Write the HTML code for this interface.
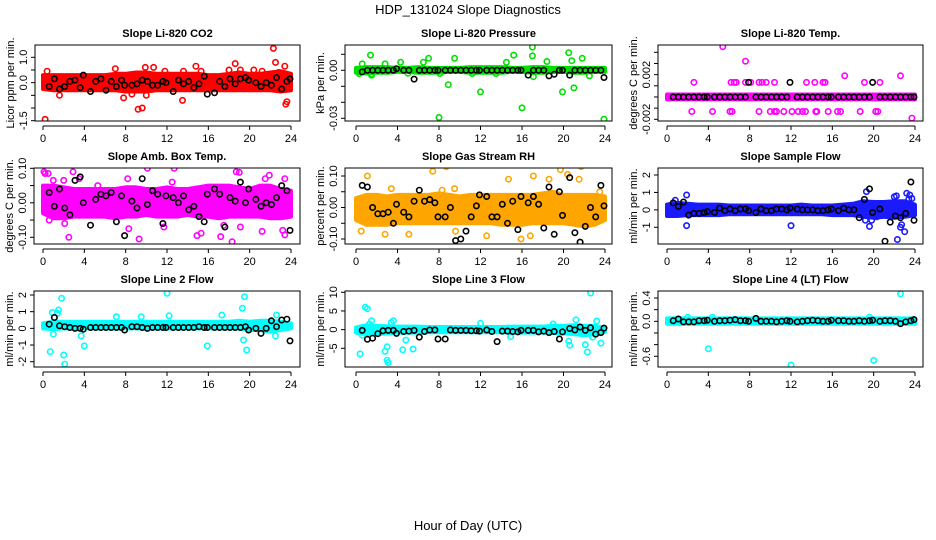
<!DOCTYPE html>
<html><head><meta charset="utf-8"><style>
html,body{margin:0;padding:0;background:#fff;}
svg{display:block;font-family:"Liberation Sans",Arial,sans-serif;}
</style></head><body>
<svg id="chart" width="936" height="540" viewBox="0 0 936 540" xmlns="http://www.w3.org/2000/svg">
<rect x="0" y="0" width="936" height="540" fill="#fff"/>
<text x="468" y="14" font-size="13" text-anchor="middle">HDP_131024  Slope Diagnostics</text>
<text x="468" y="530" font-size="13" text-anchor="middle">Hour of Day (UTC)</text>
</svg>
<script>
// shared data
const bandHours=[0,1,2,3,4,5,6,7,8,9,10,11,12,13,14,15,16,17,18,19,20,21,22,23,24];
const blackHours=[0.6,1.1,1.6,2.1,2.6,3.1,3.6,3.9,4.6,5.1,5.6,6.1,6.6,7.1,7.6,7.9,8.6,9.1,9.6,10.1,10.6,11.1,11.6,11.9,12.6,13.1,13.6,14.1,14.6,15.1,15.6,15.9,16.6,17.1,17.6,18.1,18.6,19.1,19.6,19.9,20.6,21.1,21.6,22.1,22.6,23.1,23.6,23.9];
const xTicks=[0,4,8,12,16,20,24];

// Panel 1: CO2
const p1Lo=[-0.25,-0.3,-0.3,-0.3,-0.3,-0.3,-0.3,-0.3,-0.35,-0.35,-0.35,-0.3,-0.3,-0.3,-0.3,-0.3,-0.3,-0.3,-0.3,-0.3,-0.3,-0.3,-0.3,-0.35,-0.3];
const p1Hi=[0.3,0.3,0.3,0.3,0.3,0.3,0.3,0.35,0.35,0.4,0.4,0.35,0.35,0.35,0.35,0.35,0.3,0.3,0.35,0.4,0.35,0.35,0.4,0.45,0.35];
const p1OutH=[0.2,0.4,1.6,7,7.8,9.2,9.6,9.9,10.7,11.8,13.5,13.6,14.8,15.3,18,18.6,19.1,20.4,21.2,22.3,22.5,23.4,23.5,23.6,22.8,8.6,10];
const p1OutV=[-1.45,0.45,-0.5,0.55,-0.6,-1.05,-1.0,0.6,0.6,0.45,-0.7,0.45,0.65,0.45,0.5,0.75,0.5,0.5,0.45,1.35,0.8,0.65,-0.85,-0.75,0.4,-0.45,-0.5];
const p1Black=[-0.15,0.15,-0.25,-0.15,0.05,0.1,-0.2,0.3,-0.35,0.05,0.15,-0.3,0.05,-0.15,0.1,-0.1,-0.1,-0.05,0.1,0.05,-0.1,-0.1,0.05,0.0,-0.35,0.1,-0.05,0.05,-0.2,-0.05,0.25,-0.45,-0.4,0.05,-0.15,0.15,-0.05,0.15,0.2,0.1,0.0,-0.15,0.0,-0.1,0.2,-0.25,0.05,0.15];
const p1YTicks=[-1.5,-1.0,-0.5,0.0,0.5,1.0];
const p1YLabels=["-1.5","","","0.0","","1.0"];

// Panel 2: Pressure
const p2Lo=[-0.0015,-0.002,-0.0015,-0.0015,-0.001,-0.001,-0.0015,-0.0015,-0.0015,-0.001,-0.001,-0.0015,-0.0015,-0.0015,-0.0015,-0.001,-0.001,-0.0015,-0.0015,-0.001,-0.001,-0.0015,-0.0015,-0.001,-0.001];
const p2Hi=[0.0015,0.002,0.002,0.002,0.0015,0.0015,0.002,0.0015,0.0015,0.0015,0.0015,0.002,0.002,0.002,0.002,0.0015,0.0015,0.002,0.002,0.0015,0.0015,0.0015,0.0015,0.0015,0.0015];
const p2OutH=[1.5,1.5,1.4,0.3,5,8,8.1,8.9,9.5,11.2,12,13.5,14.5,15.2,16,17,17,17.1,18.4,19.9,20.5,20.8,21,21.8,22.5,23.9,7,0.6,2.8,4.3,6.5];
const p2OutV=[-0.0025,-0.003,0.0095,-0.002,-0.0018,-0.0295,-0.002,-0.009,0.0075,-0.002,-0.0135,-0.002,0.005,0.0095,-0.0235,0.0145,0.009,-0.004,0.0055,-0.0135,0.011,0.006,-0.011,0.0075,-0.0035,-0.0305,0.0075,0.004,0.004,0.005,0.005];
const p2Black=[-0.001,0,0,0,0,0,0,0.001,0,0,-0.0055,0,0,0,0,0,0,0,0,0,0,0,0,0,0,0,0,0,0,0,0,0,-0.003,0,0,0,-0.0035,-0.0025,0,0,-0.003,0,0,0,0,0,0,-0.0045];
const p2YTicks=[-0.03,-0.02,-0.01,0.0,0.01];
const p2YLabels=["-0.03","","","0.00",""];

// Panel 3: Li-820 Temp
const p3Lo=[-0.00022,-0.00022,-0.00022,-0.00022,-0.00022,-0.00022,-0.00022,-0.00022,-0.00022,-0.00022,-0.00022,-0.00022,-0.00022,-0.00022,-0.00022,-0.00022,-0.00022,-0.00022,-0.00022,-0.00022,-0.00022,-0.00022,-0.00022,-0.00022,-0.00022];
const p3Hi=[0.00022,0.00022,0.00022,0.00022,0.00022,0.00022,0.00022,0.00022,0.00022,0.00022,0.00022,0.00022,0.00022,0.00022,0.00022,0.00022,0.00022,0.00022,0.00022,0.00022,0.00022,0.00022,0.00022,0.00022,0.00022];
const p3OutH=[2.6,6.2,6.5,6.7,7.6,8.1,8.9,9.2,9.6,10.4,13.5,14.3,15.1,15.3,19.1,20.6,2.4,4.4,6.1,6.3,8.9,10,10.4,10.6,11.3,12.1,12.7,13.1,13.4,14.4,14.5,15.6,16.5,16.8,18.7,20.2,20.4,5.4,7.6,17.2,22.6,23.7];
const p3OutV=[0.0013,0.0013,0.0013,0.0013,0.0013,0.0013,0.0013,0.0013,0.0013,0.0013,0.0013,0.0013,0.0013,0.0013,0.0013,0.0013,-0.0013,-0.0013,-0.0013,-0.0013,-0.0013,-0.0013,-0.0013,-0.0013,-0.0013,-0.0013,-0.0013,-0.0013,-0.0013,-0.0013,-0.0013,-0.0013,-0.0013,-0.0013,-0.0013,-0.0013,-0.0013,0.0045,0.0032,0.0019,0.0019,-0.0019];
const p3Black=[0,0,0,0,0,0,0,0,0,0,0,0,0,0,0,0.0013,0,0,0,0,0,0,0,0.0013,0,0,0,0,0,0,0,0,0,0,0,0,0,0,0,0.0013,0,0,0,0,0,0,0,0];
const p3YTicks=[-0.002,-0.001,0,0.001,0.002,0.003,0.004];
const p3YLabels=["-0.002","","","","0.002","",""];

// Panel 4: Amb Box Temp
const p4Lo=[-0.03,-0.045,-0.045,-0.04,-0.04,-0.04,-0.04,-0.045,-0.04,-0.04,-0.035,-0.04,-0.04,-0.04,-0.035,-0.04,-0.04,-0.045,-0.04,-0.04,-0.04,-0.04,-0.045,-0.045,-0.04];
const p4Hi=[0.05,0.05,0.045,0.04,0.04,0.04,0.04,0.04,0.045,0.045,0.04,0.04,0.045,0.04,0.04,0.045,0.05,0.05,0.05,0.045,0.04,0.05,0.05,0.04,0.035];
const p4OutH=[0.1,0.2,0.5,0.6,1.0,2.0,2.1,2.5,2.9,3.5,5.3,8.3,8.2,9.3,10.1,11.7,12.7,12.5,14.9,15.3,17.2,17.5,18.3,18.7,19.0,19.1,21.2,21.5,21.9,23.2,23.4,23.4];
const p4OutV=[0.09,0.085,0.085,-0.05,0.065,0.065,-0.06,-0.1,0.09,0.07,0.05,-0.075,0.07,-0.105,0.1,-0.07,0.1,0.06,-0.095,-0.088,-0.098,-0.065,-0.113,0.09,0.088,-0.07,-0.083,0.07,0.08,-0.08,-0.093,0.07];
const p4Black=[0.03,-0.01,0.04,-0.015,-0.035,0.065,0.075,0.0,-0.065,0.01,0.025,0.02,0.03,-0.055,0.02,-0.095,0.005,-0.015,0.07,-0.005,0.035,0.025,-0.06,0.02,0.015,0.0,0.02,-0.02,-0.01,-0.04,-0.055,0.025,0.04,0.025,-0.07,0.015,0.005,0.06,0.0,0.04,0.01,-0.01,0.0,-0.005,0.015,0.05,0.035,-0.08];
const p4YTicks=[-0.10,-0.05,0.0,0.05,0.10];
const p4YLabels=["-0.10","","0.00","","0.10"];

// Panel 5: Gas Stream RH
const p5Lo=[-0.04,-0.055,-0.055,-0.055,-0.05,-0.05,-0.05,-0.05,-0.05,-0.05,-0.05,-0.05,-0.05,-0.05,-0.055,-0.055,-0.055,-0.05,-0.05,-0.05,-0.05,-0.055,-0.06,-0.055,-0.04];
const p5Hi=[0.03,0.04,0.04,0.035,0.04,0.04,0.04,0.04,0.045,0.04,0.035,0.04,0.04,0.04,0.04,0.04,0.04,0.04,0.045,0.05,0.04,0.04,0.04,0.04,0.035];
const p5OutH=[0.5,1.1,2.8,3.4,5.1,7.4,8.3,8.7,9.6,12.6,14.7,15.9,16.8,17.1,18.6,19.7,20.4,21.5,21.7,22.7,23.5,9.5];
const p5OutV=[-0.075,0.1,-0.085,0.06,-0.085,0.115,0.055,0.13,-0.075,-0.09,0.09,-0.1,-0.09,0.1,0.09,0.12,0.105,0.09,0.13,-0.125,0.05,0.06];
const p5Black=[0.07,0.065,0.0,-0.02,-0.02,-0.015,-0.05,0.01,-0.015,-0.03,0.02,0.055,0.02,0.025,0.015,-0.03,-0.03,0.0,-0.105,-0.1,-0.075,-0.03,0.005,0.04,0.035,-0.03,-0.03,0.01,-0.05,0.02,-0.07,0.035,0.015,0.035,0.01,-0.065,0.065,-0.085,0.05,-0.025,0.095,-0.08,-0.11,-0.06,0.0,-0.03,0.07,0.005];
const p5YTicks=[-0.10,-0.05,0.0,0.05,0.10];
const p5YLabels=["-0.10","","0.00","","0.10"];

// Panel 6: Sample Flow
const p6Lo=[-0.35,-0.35,-0.3,-0.3,-0.3,-0.3,-0.25,-0.25,-0.25,-0.25,-0.25,-0.25,-0.25,-0.25,-0.25,-0.25,-0.3,-0.3,-0.3,-0.4,-0.45,-0.4,-0.45,-0.4,-0.3];
const p6Hi=[0.3,0.4,0.35,0.3,0.3,0.3,0.25,0.25,0.25,0.25,0.25,0.25,0.25,0.3,0.25,0.25,0.25,0.3,0.35,0.5,0.45,0.45,0.5,0.5,0.3];
const p6OutH=[0.8,1.9,1.9,12,19.3,19.2,19.6,19.8,20.3,22.0,22.2,22.3,22.6,22.7,23.0,23.2,23.4,23.5,23.7];
const p6OutV=[0.55,0.85,-0.9,-0.9,1.05,-0.6,-0.95,-0.6,-0.4,0.75,0.8,-1.7,-1.0,-0.85,-1.25,0.95,0.6,0.85,0.65];
const p6Black=[0.4,0.2,0.45,-0.3,-0.2,-0.2,-0.15,-0.1,-0.15,0.1,-0.05,0.05,-0.05,0.05,0.05,-0.05,-0.15,0.05,-0.05,-0.05,0.05,0.05,0.0,0.1,0.05,0.0,0.0,0.0,-0.05,-0.05,0.0,0.05,-0.05,0.1,0.0,0.0,-0.45,0.6,1.2,-0.15,0.05,-1.8,-0.7,-0.35,-0.45,-0.2,1.6,-0.6];
const p6YTicks=[-1,0,1,2];
const p6YLabels=["-1","0","1","2"];

// Panel 7: Line 2 Flow
const p7Lo=[0,-0.05,0,0,0,0,0,0,0,0,0,0,0,0,0,0,0,0,0,0,-0.1,-0.1,-0.2,-0.1,0];
const p7Hi=[0.3,0.4,0.4,0.4,0.4,0.4,0.4,0.4,0.4,0.4,0.4,0.4,0.4,0.4,0.4,0.4,0.4,0.4,0.4,0.45,0.4,0.45,0.45,0.4,0.3];
const p7OutH=[0.7,0.9,1.0,1.5,1.4,1.8,2.0,2.1,3.7,4.0,7.1,9.5,12.0,12.2,15.9,17.3,19.3,19.4,19.5,19.7,22.6,22.5];
const p7OutV=[-1.4,0.95,-0.35,1.1,0.9,1.8,-1.6,-2.15,-0.45,-1.05,0.7,0.7,2.1,0.75,-1.05,0.8,1.2,-0.7,1.9,-1.3,0.8,-0.45];
const p7Black=[0.25,0.65,0.15,0.1,0.05,0.0,0.0,-0.05,0.05,0.05,0.05,0.05,0.05,0.05,0.05,-0.1,0.1,0.1,0.05,0.0,0.05,0.05,0.05,0.05,0.05,0.05,0.05,0.05,0.05,0.1,0.05,0.05,0.05,0.05,0.05,0.05,0.05,0.05,0.1,-0.1,0.0,-0.3,0.0,0.45,0.1,0.5,0.55,-0.75];
const p7YTicks=[-2,-1,0,1,2];
const p7YLabels=["-2","-1","0","1","2"];

// Panel 8: Line 3 Flow
const p8Lo=[-0.8,-1.2,-1.2,-1.0,-0.8,-0.8,-0.8,-0.7,-0.7,-0.7,-0.7,-0.7,-0.7,-0.7,-0.7,-0.8,-0.8,-0.8,-0.8,-0.9,-1.0,-1.2,-1.5,-1.2,-0.6];
const p8Hi=[0.6,1.2,1.0,0.9,0.8,0.8,0.8,0.7,0.7,0.7,0.7,0.7,0.7,0.7,0.7,0.8,0.8,0.8,0.8,1.0,1.0,1.2,1.0,1.0,0.5];
const p8OutH=[0.4,0.6,0.9,1.1,1.5,1.3,2.8,3.0,3.0,3.1,3.4,3.6,4.5,4.8,5.5,12.0,14.9,19.0,20.5,20.6,21.2,22.1,22.3,22.6,22.8,23.2,23.6];
const p8OutV=[-6.5,-1.5,6.0,5.6,2.4,1.5,-5.8,-4.6,-8.2,-8.8,1.9,2.4,-5.4,-2.8,-5.2,1.7,-1.9,1.5,-3.1,-4.2,2.6,-4.0,-6.0,9.8,-2.0,2.3,-3.6];
const p8Black=[-0.2,-2.6,-2.3,-1.1,-0.3,-0.2,-0.2,-1.0,-0.5,-0.4,-0.2,-2.0,-0.5,-0.1,-0.1,-2.5,-2.5,-0.1,-0.2,-0.2,-0.2,-0.3,-0.3,-0.4,-0.1,-0.5,-3.2,-0.4,-0.4,-0.5,-0.6,-0.2,-0.2,-0.2,-0.6,-0.4,-0.8,-0.5,-2.5,-0.6,0.3,-0.1,0.7,-0.2,0.5,-1.2,-0.8,0.4];
const p8YTicks=[-5,0,5,10];
const p8YLabels=["-5","0","5","10"];

// Panel 9: Line 4 (LT) Flow
const p9Lo=[-0.04,-0.04,-0.04,-0.04,-0.04,-0.04,-0.04,-0.04,-0.04,-0.04,-0.04,-0.04,-0.04,-0.04,-0.04,-0.04,-0.04,-0.04,-0.04,-0.04,-0.04,-0.04,-0.04,-0.04,-0.04];
const p9Hi=[0.05,0.05,0.05,0.05,0.05,0.05,0.05,0.05,0.05,0.05,0.05,0.05,0.05,0.05,0.05,0.05,0.05,0.05,0.05,0.05,0.05,0.05,0.05,0.05,0.05];
const p9OutH=[4.0,12.0,20.0,22.6,2.0,4.4,19.6];
const p9OutV=[-0.47,-0.75,-0.67,0.47,0.07,0.07,0.07];
const p9Black=[0.01,0.04,-0.01,-0.01,-0.01,0.01,0.01,0.02,0.0,0.01,0.01,0.02,0.03,0.01,0.01,0.0,0.05,0.0,0.0,0.0,-0.01,0.0,0.01,0.0,-0.01,0.0,0.01,0.02,0.01,0.0,0.0,0.02,0.01,0.01,0.0,0.0,0.01,0.0,0.01,0.02,0.0,0.01,0.01,0.0,-0.04,-0.01,0.01,0.03];
const p9YTicks=[-0.6,-0.4,-0.2,0.0,0.2,0.4];
const p9YLabels=["-0.6","","","0.0","","0.4"];

// layout (pixels)
const panels=[
 {name:"co2",title:"Slope Li-820 CO2",ylab:"Licor ppm per min.",color:"#ff0000",L:35,R:300,T:45,B:121,x0:43,x24:291,v1:1.0,p1:57.3,v2:-1.5,p2:120.7,lo:p1Lo,hi:p1Hi,oh:p1OutH,ov:p1OutV,bk:p1Black,yt:p1YTicks,yl:p1YLabels},
 {name:"pressure",title:"Slope Li-820 Pressure",ylab:"kPa per min.",color:"#00e000",L:345,R:612,T:45,B:121,x0:356,x24:605,v1:0.01,p1:54.3,v2:-0.03,p2:118.3,lo:p2Lo,hi:p2Hi,oh:p2OutH,ov:p2OutV,bk:p2Black,yt:p2YTicks,yl:p2YLabels},
 {name:"li820-temp",title:"Slope Li-820 Temp.",ylab:"degrees C per min.",color:"#ff00ff",L:658,R:923,T:45,B:121,x0:667,x24:915,v1:0.004,p1:52.3,v2:-0.002,p2:119.3,lo:p3Lo,hi:p3Hi,oh:p3OutH,ov:p3OutV,bk:p3Black,yt:p3YTicks,yl:p3YLabels},
 {name:"amb-box-temp",title:"Slope Amb. Box Temp.",ylab:"degrees C per min.",color:"#ff00ff",L:34,R:300,T:168,B:244,x0:43,x24:291,v1:0.10,p1:168.3,v2:-0.10,p2:237.3,lo:p4Lo,hi:p4Hi,oh:p4OutH,ov:p4OutV,bk:p4Black,yt:p4YTicks,yl:p4YLabels},
 {name:"gas-stream-rh",title:"Slope Gas Stream RH",ylab:"percent per min.",color:"#ffa500",L:345,R:612,T:168,B:244,x0:356,x24:605,v1:0.10,p1:176,v2:-0.10,p2:239,lo:p5Lo,hi:p5Hi,oh:p5OutH,ov:p5OutV,bk:p5Black,yt:p5YTicks,yl:p5YLabels},
 {name:"sample-flow",title:"Slope Sample Flow",ylab:"ml/min per min.",color:"#1a1aff",L:658,R:923,T:168,B:244,x0:667,x24:915,v1:2,p1:175,v2:-1,p2:227.3,lo:p6Lo,hi:p6Hi,oh:p6OutH,ov:p6OutV,bk:p6Black,yt:p6YTicks,yl:p6YLabels},
 {name:"line2-flow",title:"Slope Line 2 Flow",ylab:"ml/min per min.",color:"#00ffff",L:34,R:300,T:291,B:367,x0:43,x24:291,v1:2,p1:295,v2:-2,p2:361.7,lo:p7Lo,hi:p7Hi,oh:p7OutH,ov:p7OutV,bk:p7Black,yt:p7YTicks,yl:p7YLabels},
 {name:"line3-flow",title:"Slope Line 3 Flow",ylab:"ml/min per min.",color:"#00ffff",L:345,R:612,T:291,B:367,x0:356,x24:605,v1:10,p1:292.3,v2:-5,p2:348.3,lo:p8Lo,hi:p8Hi,oh:p8OutH,ov:p8OutV,bk:p8Black,yt:p8YTicks,yl:p8YLabels},
 {name:"line4-flow",title:"Slope Line 4 (LT) Flow",ylab:"ml/min per min.",color:"#00ffff",L:658,R:923,T:291,B:367,x0:667,x24:915,v1:0.4,p1:298,v2:-0.6,p2:356.3,lo:p9Lo,hi:p9Hi,oh:p9OutH,ov:p9OutV,bk:p9Black,yt:p9YTicks,yl:p9YLabels}
];

const NS="http://www.w3.org/2000/svg";
const svg=document.getElementById("chart");
function mk(tag,attrs,parent){const e=document.createElementNS(NS,tag);for(const k in attrs)e.setAttribute(k,attrs[k]);parent.appendChild(e);return e;}

panels.forEach(function(p){
  const g=mk("g",{},svg);
  
  
  const xs=function(h){return p.x0+(h/24)*(p.x24-p.x0);};
  const ys=function(v){return p.p1+(v-p.v1)*(p.p2-p.p1)/(p.v2-p.v1);};
  const clip="clip-"+p.name;
  const cp=mk("clipPath",{id:clip},g);
  mk("rect",{x:p.L,y:p.T,width:p.R-p.L,height:p.B-p.T},cp);
  const plot=mk("g",{"clip-path":"url(#"+clip+")"},g);
  
  
  let d="";
  for(let i=0;i<bandHours.length;i++){d+=(i?"L":"M")+xs(bandHours[i]).toFixed(1)+" "+ys(p.hi[i]).toFixed(1);}
  for(let i=bandHours.length-1;i>=0;i--){d+="L"+xs(bandHours[i]).toFixed(1)+" "+ys(p.lo[i]).toFixed(1);}
  d+="Z";
  const band=mk("path",{d:d,fill:p.color,stroke:p.color,"stroke-width":4,"stroke-linejoin":"round"},plot);
  
  
  for(let i=0;i<Math.min(p.oh.length,p.ov.length);i++){
    const c=mk("circle",{cx:xs(p.oh[i]).toFixed(1),cy:ys(p.ov[i]).toFixed(1),r:2.7,fill:"none",stroke:p.color,"stroke-width":1.6},plot);
    
    
  }
  for(let i=0;i<Math.min(blackHours.length,p.bk.length);i++){
    const c=mk("circle",{cx:xs(blackHours[i]).toFixed(1),cy:ys(p.bk[i]).toFixed(1),r:2.7,fill:"none",stroke:"#000","stroke-width":1.6},plot);
    
    
  }
  const box=mk("rect",{x:p.L,y:p.T,width:p.R-p.L,height:p.B-p.T,fill:"none",stroke:"#000","stroke-width":1},g);
  
  
  const t=mk("text",{x:(p.L+p.R)/2,y:p.T-8,"font-size":11,"font-weight":"bold","text-anchor":"middle"},g);
  t.textContent=p.title;
  
  
  const ay=p.B+5;
  const xa=mk("line",{x1:xs(0),x2:xs(24),y1:ay,y2:ay,stroke:"#000"},g);
  
  
  xTicks.forEach(function(h){
    mk("line",{x1:xs(h),x2:xs(h),y1:ay,y2:ay+4,stroke:"#000"},g);
    const tl=mk("text",{x:xs(h),y:p.B+21,"font-size":11,"text-anchor":"middle"},g);
    tl.textContent=String(h);
    
    
  });
  p.yt.forEach(function(v,i){
    const yy=ys(v);
    mk("line",{x1:p.L-4,x2:p.L,y1:yy,y2:yy,stroke:"#000"},g);
    if(p.yl[i]){
      const tl=mk("text",{x:p.L-8,y:yy,"font-size":11,"text-anchor":"middle",transform:"rotate(-90 "+(p.L-8)+" "+yy.toFixed(1)+")"},g);
      tl.textContent=p.yl[i];
      
      
    }
  });
  const cy=(p.T+p.B)/2, lx=p.L-21;
  const yl=mk("text",{x:lx,y:cy,"font-size":11,"text-anchor":"middle",transform:"rotate(-90 "+lx+" "+cy+")"},g);
  yl.textContent=p.ylab;
  
  
});
</script>
</body></html>
